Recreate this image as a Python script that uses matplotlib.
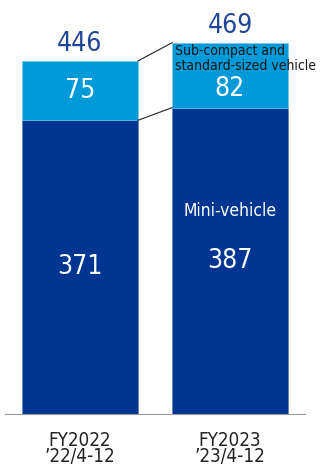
import matplotlib.pyplot as plt

# Sales volume (thousand units)
periods = ["FY2022\n\u201922/4-12", "FY2023\n\u201923/4-12"]
mini = [371, 387]
sub_compact = [75, 82]
totals = [m + s for m, s in zip(mini, sub_compact)]

dark = "#003591"
light = "#009ad9"
navy_text = "#1f4596"

fig = plt.figure(figsize=(3.27, 4.67), dpi=100)
ax = fig.add_axes([5 / 327, 53 / 467, 300 / 327, 414 / 467])

x = [0, 1]
w = 0.773
ax.bar(x, mini, width=w, color=dark, edgecolor="#5a7bbd", linewidth=0.4)
ax.bar(x, sub_compact, width=w, bottom=mini, color=light, edgecolor="#7cc4ea", linewidth=0.4)

# connector lines between bars
for tops in (mini, totals):
    ax.plot([x[0] + w / 2, x[1] - w / 2], [tops[0], tops[1]], color="#222222", lw=0.8)

font = dict(family=["DejaVu Sans"], fontstretch="condensed")

for i in x:
    ax.text(i, mini[i] / 2, str(mini[i]), ha="center", va="center",
            color="white", fontsize=19, **font)
    ax.annotate(str(totals[i]), (i, totals[i]), xytext=(0, 3), textcoords="offset points",
                ha="center", va="bottom", color=navy_text, fontsize=19, **font)

ax.text(x[0], mini[0] + sub_compact[0] / 2, str(sub_compact[0]), ha="center", va="center",
        color="white", fontsize=19, **font)
ax.text(x[1], mini[1] + sub_compact[1] / 2 - 17, str(sub_compact[1]), ha="center", va="center",
        color="white", fontsize=19, **font)

ax.text(x[1] - w / 2 + 0.02, totals[1] - 2, "Sub-compact and\nstandard-sized vehicle",
        ha="left", va="top", color="#1a1a1a", fontsize=10, linespacing=1.1, **font)
ax.text(x[1], 256, "Mini-vehicle", ha="center", va="center", color="white", fontsize=12.5, **font)

ax.set_xlim(-0.5, 1.5)
ax.set_ylim(0, 523)
ax.set_xticks(x)
ax.set_xticklabels(periods, fontsize=13.5, color="#222222", linespacing=0.85, **font)
ax.tick_params(axis="x", length=0, pad=12)
ax.set_yticks([])
for s in ["top", "right", "left"]:
    ax.spines[s].set_visible(False)
ax.spines["bottom"].set_color("#999999")

fig.savefig("out.png", dpi=100)
